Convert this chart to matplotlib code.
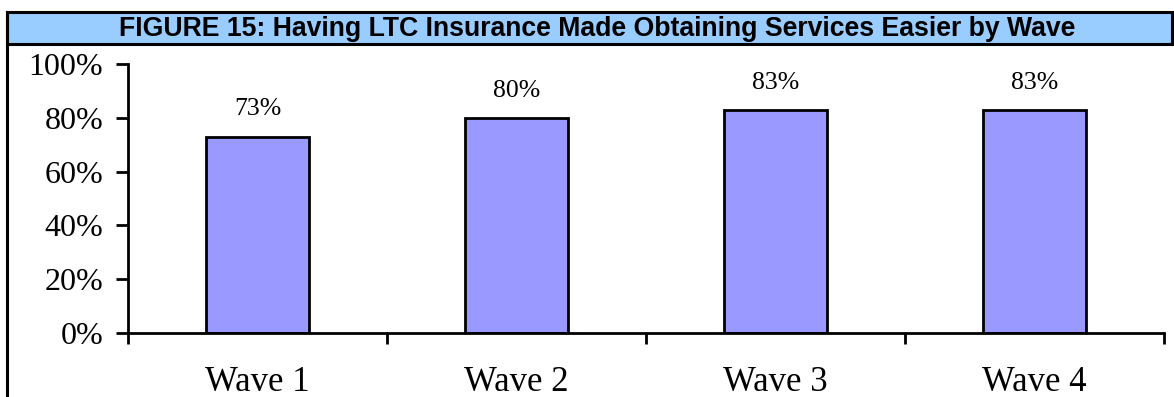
import matplotlib
matplotlib.use("Agg")
import matplotlib.pyplot as plt
from matplotlib.patches import Rectangle
from matplotlib.lines import Line2D

# datos de la figura
waves = ["Wave 1", "Wave 2", "Wave 3", "Wave 4"]
pct = [73, 80, 83, 83]
yticks = [0, 20, 40, 60, 80, 100]

W, H = 1174, 397
fig = plt.figure(figsize=(W / 100, H / 100), dpi=100)

# recuadro del título
fig.patches.append(Rectangle((7 / W, 1 - 44 / H), 1165 / W, 32 / H,
                             transform=fig.transFigure, facecolor="#99CCFF",
                             edgecolor="black", linewidth=2.2))
fig.lines.append(Line2D([7 / W, 7 / W], [0, 1 - 12 / H], transform=fig.transFigure,
                        color="black", linewidth=2.2))
fig.text(597 / W, 1 - 29 / H, "FIGURE 15: Having LTC Insurance Made Obtaining Services Easier by Wave",
         ha="center", va="center", fontsize=19.2, fontweight="bold",
         family="Liberation Sans")

ax = fig.add_axes([128 / W, 1 - 333 / H, (1164 - 128) / W, (333 - 64) / H])
x = list(range(len(waves)))
ax.bar(x, pct, width=0.4, color="#9999FF", edgecolor="black", linewidth=2)
for xi, v in zip(x, pct):
    ax.text(xi, v + 6, f"{v}%", ha="center", va="bottom", fontsize=18.5,
            family="Liberation Serif")

ax.set_xlim(-0.5, len(waves) - 0.5)
ax.set_ylim(0, 100)
ax.set_yticks(yticks)
ax.set_yticklabels([f"{t}%" for t in yticks], family="Liberation Serif", fontsize=23)
ax.set_xticks([i - 0.5 for i in range(len(waves) + 1)])
ax.set_xticklabels([])
ax.set_xticks(x, minor=True)
ax.set_xticklabels(waves, minor=True, family="Liberation Serif", fontsize=25)
ax.tick_params(axis="x", which="minor", length=0, pad=24)
ax.tick_params(axis="x", which="major", length=8, width=2, direction="out")
ax.tick_params(axis="y", length=9, width=2, direction="out", pad=9)
for s in ["top", "right"]:
    ax.spines[s].set_visible(False)
for s in ["left", "bottom"]:
    ax.spines[s].set_linewidth(2)

fig.savefig("out.png", dpi=100)
